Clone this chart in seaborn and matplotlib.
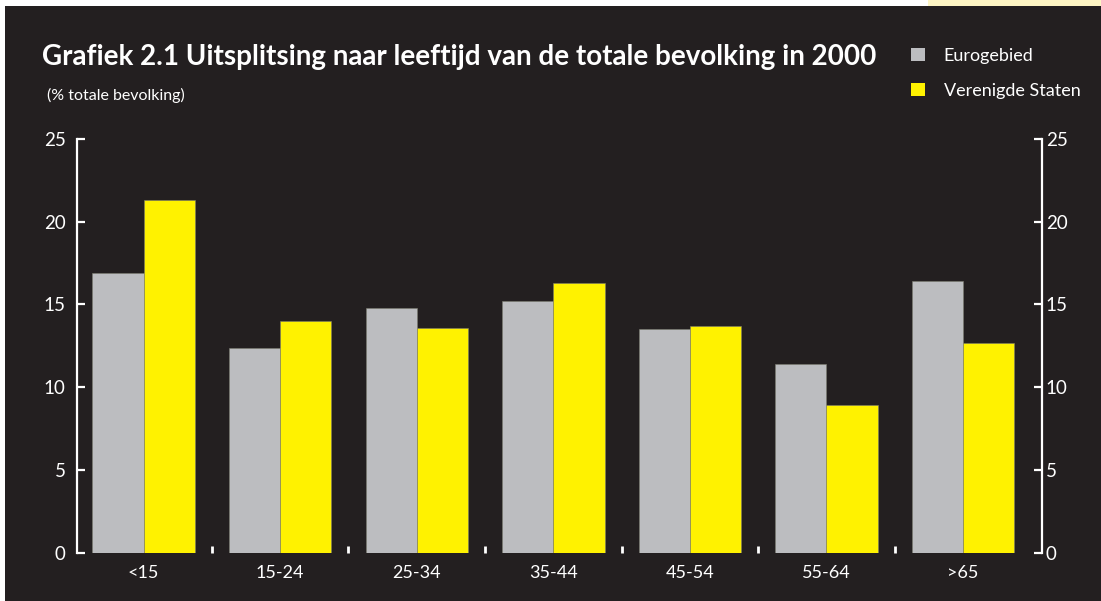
import matplotlib
matplotlib.use("Agg")
import matplotlib.pyplot as plt
from matplotlib.patches import Rectangle, Patch
import seaborn as sns
import pandas as pd

# Age groups and population shares (% of total population, 2000)
age_groups = ["<15", "15-24", "25-34", "35-44", "45-54", "55-64", ">65"]
eurogebied = [16.9, 12.4, 14.8, 15.2, 13.5, 11.4, 16.4]
verenigde_staten = [21.3, 14.0, 13.6, 16.3, 13.7, 8.9, 12.7]
series_names = ["Eurogebied", "Verenigde Staten"]
y_ticks = [0, 5, 10, 15, 20, 25]

BG = "#231f20"
GREY = "#bcbdc0"
YELLOW = "#fff200"
FONT = "Lato"

df = pd.DataFrame({
    "leeftijd": age_groups * 2,
    "aandeel": eurogebied + verenigde_staten,
    "regio": [series_names[0]] * len(age_groups) + [series_names[1]] * len(age_groups),
})

sns.set_theme(style="ticks")
plt.rcParams["font.family"] = [FONT, "DejaVu Sans"]

fig = plt.figure(figsize=(11.01, 6.01), dpi=100, facecolor="white")
# dark panel behind the chart
fig.patches.append(Rectangle((5 / 1101, 0), 1 - 5 / 1101, 1 - 6 / 601,
                             transform=fig.transFigure, facecolor=BG,
                             edgecolor="none", zorder=-10))
fig.patches.append(Rectangle((928 / 1101, 1 - 6 / 601), 1, 6 / 601,
                             transform=fig.transFigure, facecolor="#fdf5c4",
                             edgecolor="none", zorder=-10))

ax = fig.add_axes([0.0697, 0.0804, 0.9461 - 0.0697, 0.6883])
ax.set_facecolor("none")

sns.barplot(data=df, x="leeftijd", y="aandeel", hue="regio",
            palette=[GREY, YELLOW], saturation=1, width=0.75, gap=0, ax=ax,
            edgecolor="#7d7d70", linewidth=0.4, legend=False)

ax.set_xlim(-0.49, len(age_groups) - 1 + 0.576)
ax.set_ylim(0, 25)
ax.set_xlabel("")
ax.set_ylabel("")

for side in ["top", "bottom", "right"]:
    ax.spines[side].set_visible(False)
ax.spines["left"].set_color("white")
ax.spines["left"].set_linewidth(1.6)

ax.set_yticks(y_ticks)
ax.tick_params(axis="y", direction="in", length=5.5, width=1.6, color="white",
               labelcolor="white", labelsize=13.5, pad=8)
ax.set_xticks(range(len(age_groups)))
ax.set_xticklabels(age_groups)
ax.set_xticks([i + 0.5 for i in range(len(age_groups) - 1)], minor=True)
ax.tick_params(axis="x", which="major", length=0, labelcolor="white",
               labelsize=13, pad=9)
ax.tick_params(axis="x", which="minor", direction="in", length=5, width=2,
               color="white")

# mirrored scale on the right
ax2 = ax.twinx()
ax2.set_ylim(0, 25)
ax2.set_yticks(y_ticks)
for side in ["top", "bottom", "left"]:
    ax2.spines[side].set_visible(False)
ax2.spines["right"].set_color("white")
ax2.spines["right"].set_linewidth(1.6)
ax2.tick_params(axis="y", direction="in", length=5.5, width=1.6, color="white",
                labelcolor="white", labelsize=13.5, pad=3)
ax2.grid(False)
ax.grid(False)

fig.text(42 / 1101, 1 - 57 / 601,
         "Grafiek 2.1 Uitsplitsing naar leeftijd van de totale bevolking in 2000",
         color="white", fontsize=20, fontweight="bold", va="center", ha="left")
fig.text(47 / 1101, 1 - 95 / 601, "(% totale bevolking)", color="white",
         fontsize=11.5, va="center", ha="left")

handles = [Patch(facecolor=GREY, edgecolor="none"),
           Patch(facecolor=YELLOW, edgecolor="none")]
fig.legend(handles, series_names, loc="upper left",
           bbox_to_anchor=(911 / 1101, 1 - 48 / 601), frameon=False,
           fontsize=13, labelcolor="white", handlelength=0.75,
           handleheight=0.75, handletextpad=1.05, labelspacing=1.05,
           borderaxespad=0, borderpad=0)

fig.savefig("out.png", dpi=100, facecolor=fig.get_facecolor())
